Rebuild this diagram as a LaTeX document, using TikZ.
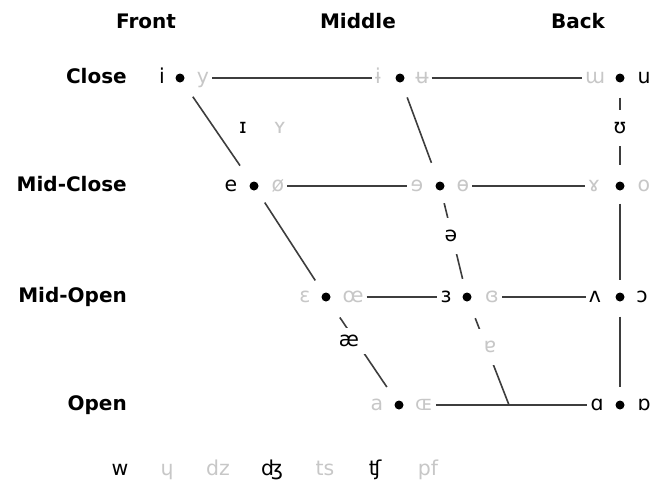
\documentclass[tikz,border=0pt]{standalone}
\usepackage{fontspec}
\setmainfont{DejaVu Sans}
\begin{document}
\fontsize{20}{24}\selectfont
\begin{tikzpicture}[x=1pt,y=-1pt,
  ipa/.style={font=\fontsize{20.5}{24}\selectfont, inner sep=3pt, anchor=mid},
  lt/.style={ipa, text=black!22},
  hd/.style={font=\bfseries\fontsize{20}{24}\selectfont, inner sep=0pt, anchor=mid},
  rowlab/.style={hd, anchor=mid east},
  vdot/.style={circle, fill=black, inner sep=0pt, minimum size=9pt},
  ln/.style={line width=1.6pt, draw=black!76},
  brk/.style={fill=white, inner sep=12pt},
]
\useasboundingbox (0,0) rectangle (664,490);

% headers
\node[hd] (hF) at (146,23) {Front};
\node[hd] (hM) at (358,23) {Middle};
\node[hd] (hB) at (578,23) {Back};
% row labels
\node[rowlab] (rC)  at (127,78)  {Close};
\node[rowlab] (rMC) at (127,186) {Mid-Close};
\node[rowlab] (rMO) at (127,297) {Mid-Open};
\node[rowlab] (rO)  at (127,405) {Open};

% dots
\node[vdot] (dCF) at (180,78) {};
\node[vdot] (dCM) at (400,78) {};
\node[vdot] (dCB) at (620,78) {};
\node[vdot] (dMCF) at (254,186) {};
\node[vdot] (dMCM) at (440,186) {};
\node[vdot] (dMCB) at (620,186) {};
\node[vdot] (dMOF) at (326,297) {};
\node[vdot] (dMOM) at (467,297) {};
\node[vdot] (dMOB) at (620,297) {};
\node[vdot] (dOF) at (399,405) {};
\node[vdot] (dOB) at (620,405) {};
\coordinate (oM) at (509,405);

% side labels
\node[ipa] (lCF) at (162,78) {i};
\node[lt]  (rCF) at (203,78) {y};
\node[lt]  (lCM) at (378,78) {ɨ};
\node[lt]  (rCM) at (422,78) {ʉ};
\node[lt]  (lCB) at (595,78) {ɯ};
\node[ipa] (rCB) at (644,78) {u};

\node[ipa] (lMCF) at (231,186) {e};
\node[lt]  (rMCF) at (278,186) {ø};
\node[lt]  (lMCM) at (417,186) {ɘ};
\node[lt]  (rMCM) at (463,186) {ɵ};
\node[lt]  (lMCB) at (594,186) {ɤ};
\node[lt]  (rMCB) at (644,186) {o};

\node[lt]  (lMOF) at (305,297) {ɛ};
\node[lt]  (rMOF) at (353,297) {œ};
\node[ipa] (lMOM) at (446,297) {ɜ};
\node[lt]  (rMOM) at (492,297) {ɞ};
\node[ipa] (lMOB) at (595,297) {ʌ};
\node[ipa] (rMOB) at (642,297) {ɔ};

\node[lt]  (lOF) at (377,405) {a};
\node[lt]  (rOF) at (424,405) {ɶ};
\node[ipa] (lOB) at (597,405) {ɑ};
\node[ipa] (rOB) at (644,405) {ɒ};

% horizontal lines
\draw[ln] (rCF.mid east) -- (lCM.mid west);
\draw[ln] (rCM.mid east) -- (lCB.mid west);
\draw[ln] (rMCF.mid east) -- (lMCM.mid west);
\draw[ln] (rMCM.mid east) -- (lMCB.mid west);
\draw[ln] (rMOF.mid east) -- (lMOM.mid west);
\draw[ln] (rMOM.mid east) -- (lMOB.mid west);
\draw[ln] (rOF.mid east) -- (lOB.mid west);

% front diagonal
\draw[ln, shorten <=18pt, shorten >=20pt] (dCF) -- (dMCF);
\draw[ln, shorten <=15pt, shorten >=15pt] (dMCF) -- (dMOF);
\draw[ln, shorten <=20pt, shorten >=17pt] (dMOF) -- (dOF);
% middle diagonal
\draw[ln, shorten <=16pt, shorten >=20pt] (dCM) -- (dMCM);
\draw[ln, shorten <=13pt, shorten >=14pt] (dMCM) -- (dMOM);
\draw[ln, shorten <=18pt] (dMOM) -- (oM);
% back vertical
\draw[ln, shorten <=15pt, shorten >=16pt] (dCB) -- (dMCB);
\draw[ln, shorten <=13pt, shorten >=12pt] (dMCB) -- (dMOB);
\draw[ln, shorten <=15pt, shorten >=13pt] (dMOB) -- (dOB);

% intermediate labels
\node[ipa] (nI) at (243,128) {ɪ};
\node[lt]  (nY) at (280,128) {ʏ};
\node[ipa, brk] (nU) at (620,128) {ʊ};
\node[ipa, brk] (nSchwa) at (451,236) {ə};
\node[ipa, fill=white, inner sep=7pt] (nAe) at (349,341) {æ};
\node[lt, brk] (nTurnA) at (490,347) {ɐ};

% bottom row
\node[ipa] (bW)  at (120,470) {w};
\node[lt]  (bH)  at (167,470) {ɥ};
\node[lt]  (bDz) at (218,470) {dz};
\node[ipa] (bDZ) at (272,470) {ʤ};
\node[lt]  (bTs) at (325,470) {ts};
\node[ipa] (bTS) at (375,470) {ʧ};
\node[lt]  (bPf) at (428,470) {pf};
\end{tikzpicture}
\end{document}
